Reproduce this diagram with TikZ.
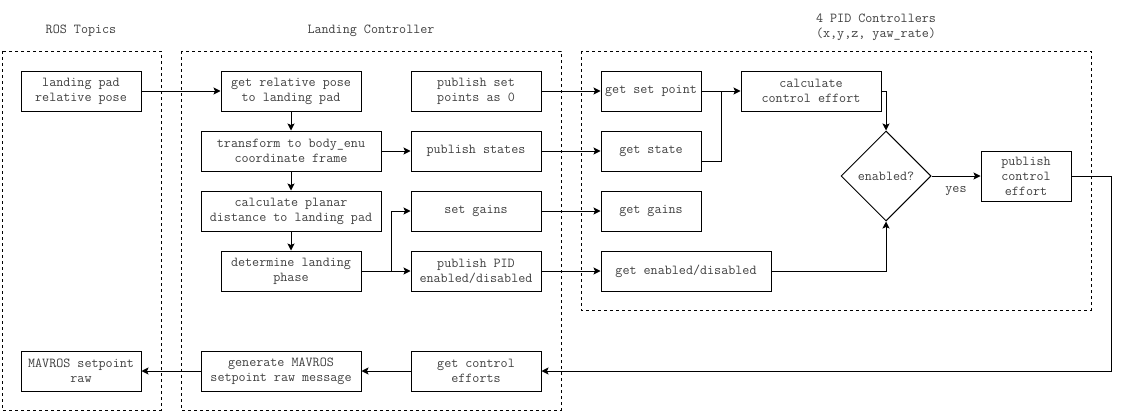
\documentclass[tikz,border=0pt]{standalone}
\usetikzlibrary{arrows.meta,shapes.geometric}

\begin{document}
\begin{tikzpicture}[x=1pt,y=-1pt,line width=1pt,
		font=\ttfamily\fontsize{13.7}{15}\selectfont,
		every node/.style={text=black!75},
		block/.style={draw=black,rectangle,inner sep=0pt,align=center,minimum height=40},
		group/.style={draw,dashed,line width=0.8pt},
		title/.style={align=center},
		arr/.style={-{Stealth[length=7pt,width=7pt,inset=1.5pt]}}]
			\useasboundingbox (0,0) rectangle (1121,412);

			% Groups
			\draw[group] (2,51) rectangle (161,410);
			\draw[group] (181,51) rectangle (561,410);
			\draw[group] (581,51) rectangle (1091,310);
			\node[title] (tros) at (81,31) {ROS Topics};
			\node[title] (tlc) at (371,31) {Landing Controller};
			\node[title] (tpid) at (876,27) {4 PID Controllers\\(x,y,z, yaw\_rate)};

			% ROS topics
			\node[block,minimum width=120] (lpp) at (81,91) {landing pad\\relative pose};
			\node[block,minimum width=120] (msr) at (81,371) {MAVROS setpoint\\raw};

			% Landing controller
			\node[block,minimum width=140] (grp) at (291,91) {get relative pose\\to landing pad};
			\node[block,minimum width=180] (tbe) at (291,151) {transform to body\_enu\\coordinate frame};
			\node[block,minimum width=180] (cpd) at (291,211) {calculate planar\\distance to landing pad};
			\node[block,minimum width=140] (dlp) at (291,271) {determine landing\\phase};
			\node[block,minimum width=130] (pgp) at (476,91) {publish set\\points as 0};
			\node[block,minimum width=130] (pst) at (476,151) {publish states};
			\node[block,minimum width=130] (sg) at (476,211) {set gains};
			\node[block,minimum width=130] (ppid) at (476,271) {publish PID\\enabled/disabled};
			\node[block,minimum width=130] (gce) at (476,371) {get control\\efforts};
			\node[block,minimum width=160] (gen) at (281,371) {generate MAVROS\\setpoint raw message};

			% PID controllers
			\node[block,minimum width=100] (gsp) at (651,91) {get set point};
			\node[block,minimum width=100] (gst) at (651,151) {get state};
			\node[block,minimum width=100] (gg) at (651,211) {get gains};
			\node[block,minimum width=170] (ged) at (686,271) {get enabled/disabled};
			\node[block,minimum width=140] (cce) at (811,91) {calculate\\control effort};
			\node[draw=black,diamond,aspect=1,inner sep=0pt,minimum width=90,minimum height=90] (en) at (886,176) {enabled?};
			\node[block,minimum width=90,minimum height=50] (pce) at (1026,176) {publish\\control\\effort};

			% Connectors
			\coordinate (jn) at (721,91);
			\coordinate (br) at (391,271);
			\coordinate (rt) at (1111,371);
			\draw[arr] (lpp) -- (grp);
			\draw[arr] (grp) -- (tbe);
			\draw[arr] (tbe) -- (cpd);
			\draw[arr] (cpd) -- (dlp);
			\draw[arr] (tbe) -- (pst);
			\draw[arr] (dlp) -- (ppid);
			\draw[arr] (br) |- (sg);
			\foreach \a/\b in {pgp/gsp,pst/gst,sg/gg,ppid/ged}{
					\draw[arr] (\a) -- (\b);
				}
			\draw[arr] (gsp) -- (cce);
			\draw ([yshift=-10pt]gst.east) -| (jn);
			\draw[arr] (cce.east) -| (en.north);
			\draw[arr] (ged.east) -| (en.south);
			\draw[arr] (en) -- node[below=7pt] (yes) {yes} (pce);
			\draw[arr] (pce.east) -| (rt) -- (gce);
			\draw[arr] (gce) -- (gen);
			\draw[arr] (gen) -- (msr);
		\end{tikzpicture}
\end{document}
